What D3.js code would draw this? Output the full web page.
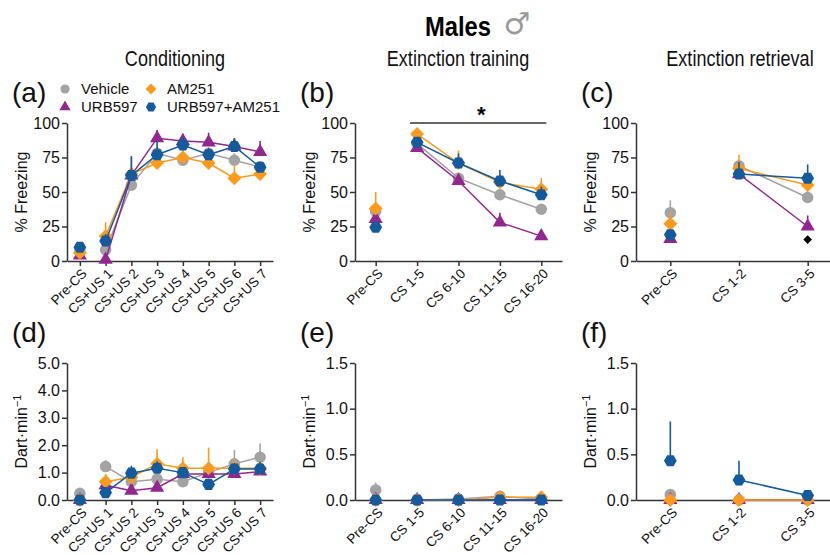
<!DOCTYPE html>
<html lang="en">
<head>
<meta charset="UTF-8" />
<title>Males - freezing and darting</title>
<script src="https://cdn.jsdelivr.net/npm/d3@7"></script>
<style>
  body { margin: 0; background: #fff; }
  svg { font-family: "Liberation Sans", Arial, sans-serif; }
  .axis path, .axis line { stroke: #333; stroke-width: 1.5; }
  .axis text { fill: #111; }
</style>
</head>
<body>
<svg width="830" height="555"></svg>
<script>
const groups = ['Vehicle', 'AM251', 'URB597', 'URB597+AM251'];
const colors = ['#a3a3a3', '#fb9a1c', '#93278f', '#135b9c'];
const shapes = ['circle', 'diamond', 'triangle', 'hexagon'];
// drawing order of the groups (later ones on top)
const drawOrder = [0, 2, 1, 3];

const condCats = ['Pre-CS', 'CS+US 1', 'CS+US 2', 'CS+US 3', 'CS+US 4', 'CS+US 5', 'CS+US 6', 'CS+US 7'];
const extCats = ['Pre-CS', 'CS 1-5', 'CS 6-10', 'CS 11-15', 'CS 16-20'];
const retCats = ['Pre-CS', 'CS 1-2', 'CS 3-5'];

const freezeTicks = [0, 25, 50, 75, 100];
const dartTicksCond = [0, 1, 2, 3, 4, 5];
const dartTicksExt = [0, 0.5, 1, 1.5];

// % freezing, one row per group (same order as groups)
const condFreeze = [
  [8, 8, 55, 78, 73, 78, 73, 68],
  [6, 18, 63, 71, 75, 71, 60, 63],
  [4, 1, 62, 89, 87, 86, 83, 79],
  [10, 14.5, 62, 77, 84, 77, 83, 68]
];
const condFreezeErr = [
  [2, 3, 5, 4, 4, 4, 5, 4],
  [3, 10, 12, 5, 8, 4, 10, 3],
  [2, 1, 5, 6, 5, 7, 6, 8],
  [3, 5, 14, 10, 6, 5, 6, 4]
];
const extFreeze = [
  [36, 85, 60, 48, 37.5],
  [38, 92, 71, 57, 52],
  [30.5, 82, 58, 28, 18],
  [24.5, 86, 71, 58, 48]
];
const extFreezeErr = [
  [3, 3, 4, 4, 3],
  [12, 3, 9, 5, 8],
  [6, 3, 4, 7, 3],
  [3, 3, 7, 8, 6]
];
const retFreeze = [
  [35, 69, 46],
  [27, 67, 55],
  [16, 63, 25],
  [19, 63, 60]
];
const retFreezeErr = [
  [9, 4, 5],
  [8, 10, 4],
  [3, 3, 8],
  [4, 9, 10]
];
// significance marks
const extSigLabel = '*';
const retSigCat = 'CS 3-5';
const retSigValue = 15.5;

// darting rate (darts per min)
const condDart = [
  [0.24, 1.22, 0.67, 0.76, 0.67, 1.0, 1.32, 1.56],
  [0, 0.67, 0.83, 1.32, 1.16, 1.16, 1.16, 1.16],
  [0, 0.54, 0.34, 0.45, 0.95, 0.95, 0.95, 1.04],
  [0, 0.27, 0.98, 1.16, 1.0, 0.57, 1.13, 1.13]
];
const condDartErr = [
  [0.05, 0.23, 0.1, 0.1, 0.1, 0.1, 0.5, 0.5],
  [0, 0.28, 0.15, 0.53, 0.4, 0.75, 0.3, 0.1],
  [0, 0.1, 0.1, 0.1, 0.1, 0.1, 0.1, 0.1],
  [0, 0.1, 0.27, 0.25, 0.15, 0.1, 0.22, 0.27]
];
const extDart = [
  [0.11, 0, 0.01, 0.04, 0.01],
  [0, 0, 0, 0.03, 0.03],
  [0, 0, 0, 0, 0],
  [0, 0, 0, 0, 0]
];
const extDartErr = [
  [0.08, 0, 0.01, 0.02, 0.01],
  [0, 0, 0, 0.02, 0.02],
  [0, 0, 0, 0, 0],
  [0, 0, 0, 0, 0]
];
const retDart = [
  [0.06, 0, 0],
  [0, 0, 0],
  [0, 0, 0],
  [0.43, 0.22, 0.05]
];
const retDartErr = [
  [0.02, 0, 0],
  [0, 0, 0],
  [0, 0, 0],
  [0.43, 0.21, 0.02]
];

const svg = d3.select('svg');

function markerPath(shape, r) {
  if (shape === 'circle') return d3.symbol(d3.symbolCircle, Math.PI * r * r)();
  if (shape === 'triangle') return d3.symbol(d3.symbolTriangle, r * r * 2.6)();
  if (shape === 'diamond') {
    const s = r * 1.2;
    return `M0,${-s}L${s},0L0,${s}L${-s},0Z`;
  }
  const s = r * 1.1;
  const pts = d3.range(6).map(k => {
    const a = k * Math.PI / 3;
    return [s * Math.cos(a), s * Math.sin(a)];
  });
  return 'M' + pts.join('L') + 'Z';
}

const cols = [
  { left: 67, right: 273, title: 'Conditioning', cx: 175 },
  { left: 355, right: 562, title: 'Extinction training', cx: 458 },
  { left: 636, right: 842, title: 'Extinction retrieval', cx: 740 }
];
const rows = [
  { top: 123, bottom: 261 },
  { top: 363, bottom: 500 }
];

function panel(o) {
  const col = cols[o.col], row = rows[o.row];
  const x = d3.scalePoint().domain(o.cats).range([col.left, col.right]).padding(0.5);
  const y = d3.scaleLinear().domain(o.domain).range([row.bottom, row.top]);
  const g = svg.append('g');

  // axes
  const xa = g.append('g').attr('class', 'axis')
    .attr('transform', `translate(0,${row.bottom})`)
    .call(d3.axisBottom(x).tickSize(5).tickSizeOuter(0));
  xa.selectAll('text')
    .attr('font-size', 13.5)
    .attr('text-anchor', 'end')
    .attr('x', 0).attr('y', 0).attr('dy', '0.35em')
    .attr('transform', 'translate(4,10) rotate(-45)');

  const ya = g.append('g').attr('class', 'axis')
    .attr('transform', `translate(${col.left},0)`)
    .call(d3.axisLeft(y).tickValues(o.ticks).tickFormat(o.fmt).tickSize(5).tickSizeOuter(0));
  ya.selectAll('text').attr('font-size', 16).attr('x', -7);

  // y label
  const yl = g.append('text')
    .attr('transform', `translate(${col.left - 40},${(row.top + row.bottom) / 2}) rotate(-90)`)
    .attr('text-anchor', 'middle')
    .attr('font-size', 16)
    .attr('fill', '#111');
  if (o.dart) {
    yl.append('tspan').text('Dart·min');
    yl.append('tspan').attr('dy', -6).attr('font-size', 11).text('−1');
  } else {
    yl.text('% Freezing');
  }

  // panel letter
  g.append('text')
    .attr('x', col.left - 55)
    .attr('y', row.top - 21)
    .attr('font-size', 28)
    .attr('fill', '#111')
    .text(o.letter);

  // series
  drawOrder.forEach(gi => {
    const vals = o.means[gi];
    const pts = vals.map((v, i) => ({ cat: o.cats[i], v, e: o.errs[gi][i] }));
    const line = d3.line().x(d => x(d.cat)).y(d => y(d.v));
    g.append('path')
      .attr('d', line(pts.slice(1)))
      .attr('fill', 'none')
      .attr('stroke', colors[gi])
      .attr('stroke-width', 1.5);
    g.selectAll(null).data(pts.filter(d => d.e > 0)).enter().append('line')
      .attr('x1', d => x(d.cat)).attr('x2', d => x(d.cat))
      .attr('y1', d => y(d.v)).attr('y2', d => y(d.v + d.e))
      .attr('stroke', colors[gi])
      .attr('stroke-width', 1.6);
    g.selectAll(null).data(pts).enter().append('path')
      .attr('d', markerPath(shapes[gi], 5.8))
      .attr('transform', d => `translate(${x(d.cat)},${y(d.v)})`)
      .attr('fill', colors[gi]);
  });

  return { g, x, y };
}

// header
svg.append('text')
  .attr('x', 458).attr('y', 36)
  .attr('text-anchor', 'middle')
  .attr('font-size', 27).attr('font-weight', 'bold')
  .attr('fill', '#000')
  .attr('transform', 'translate(458,0) scale(0.88,1) translate(-458,0)')
  .text('Males');
svg.append('text')
  .attr('x', 517).attr('y', 34)
  .attr('text-anchor', 'middle')
  .attr('font-family', 'DejaVu Sans')
  .attr('font-size', 30)
  .attr('fill', '#9a9a9a')
  .text('♂');

cols.forEach(c => {
  svg.append('text')
    .attr('x', c.cx).attr('y', 66)
    .attr('text-anchor', 'middle')
    .attr('font-size', 22)
    .attr('fill', '#111')
    .attr('transform', `translate(${c.cx},0) scale(0.82,1) translate(${-c.cx},0)`)
    .text(c.title);
});

const fmt0 = d3.format('d');
const fmt1 = d3.format('.1f');

panel({ col: 0, row: 0, letter: '(a)', cats: condCats, domain: [0, 100], ticks: freezeTicks, fmt: fmt0, means: condFreeze, errs: condFreezeErr });
const pb = panel({ col: 1, row: 0, letter: '(b)', cats: extCats, domain: [0, 100], ticks: freezeTicks, fmt: fmt0, means: extFreeze, errs: extFreezeErr });
const pc = panel({ col: 2, row: 0, letter: '(c)', cats: retCats, domain: [0, 100], ticks: freezeTicks, fmt: fmt0, means: retFreeze, errs: retFreezeErr });
panel({ col: 0, row: 1, letter: '(d)', cats: condCats, domain: [0, 5], ticks: dartTicksCond, fmt: fmt1, means: condDart, errs: condDartErr, dart: true });
panel({ col: 1, row: 1, letter: '(e)', cats: extCats, domain: [0, 1.5], ticks: dartTicksExt, fmt: fmt1, means: extDart, errs: extDartErr, dart: true });
panel({ col: 2, row: 1, letter: '(f)', cats: retCats, domain: [0, 1.5], ticks: dartTicksExt, fmt: fmt1, means: retDart, errs: retDartErr, dart: true });

// significance bar over extinction CS blocks
pb.g.append('line')
  .attr('x1', pb.x('CS 1-5') - 7).attr('x2', pb.x('CS 16-20') + 5)
  .attr('y1', pb.y(100)).attr('y2', pb.y(100))
  .attr('stroke', '#333').attr('stroke-width', 1.5);
pb.g.append('text')
  .attr('x', (pb.x('CS 1-5') + pb.x('CS 16-20')) / 2 + 2)
  .attr('y', pb.y(100) - 1)
  .attr('text-anchor', 'middle')
  .attr('font-size', 22).attr('font-weight', 'bold')
  .text(extSigLabel);
pc.g.append('path')
  .attr('d', markerPath('diamond', 3.6))
  .attr('transform', `translate(${pc.x(retSigCat)},${pc.y(retSigValue)})`)
  .attr('fill', '#000');

// legend, two columns
const legend = svg.append('g').attr('transform', 'translate(65,89)');
groups.forEach((name, i) => {
  const item = legend.append('g')
    .attr('transform', `translate(${(i === 1 || i === 3) ? 86 : 0},${(i >= 2) ? 18 : 0})`);
  item.append('path')
    .attr('d', markerPath(shapes[i], 4.6))
    .attr('fill', colors[i]);
  item.append('text')
    .attr('x', 16).attr('y', 5)
    .attr('font-size', 15)
    .attr('fill', '#111')
    .text(name);
});
</script>
</body>
</html>
